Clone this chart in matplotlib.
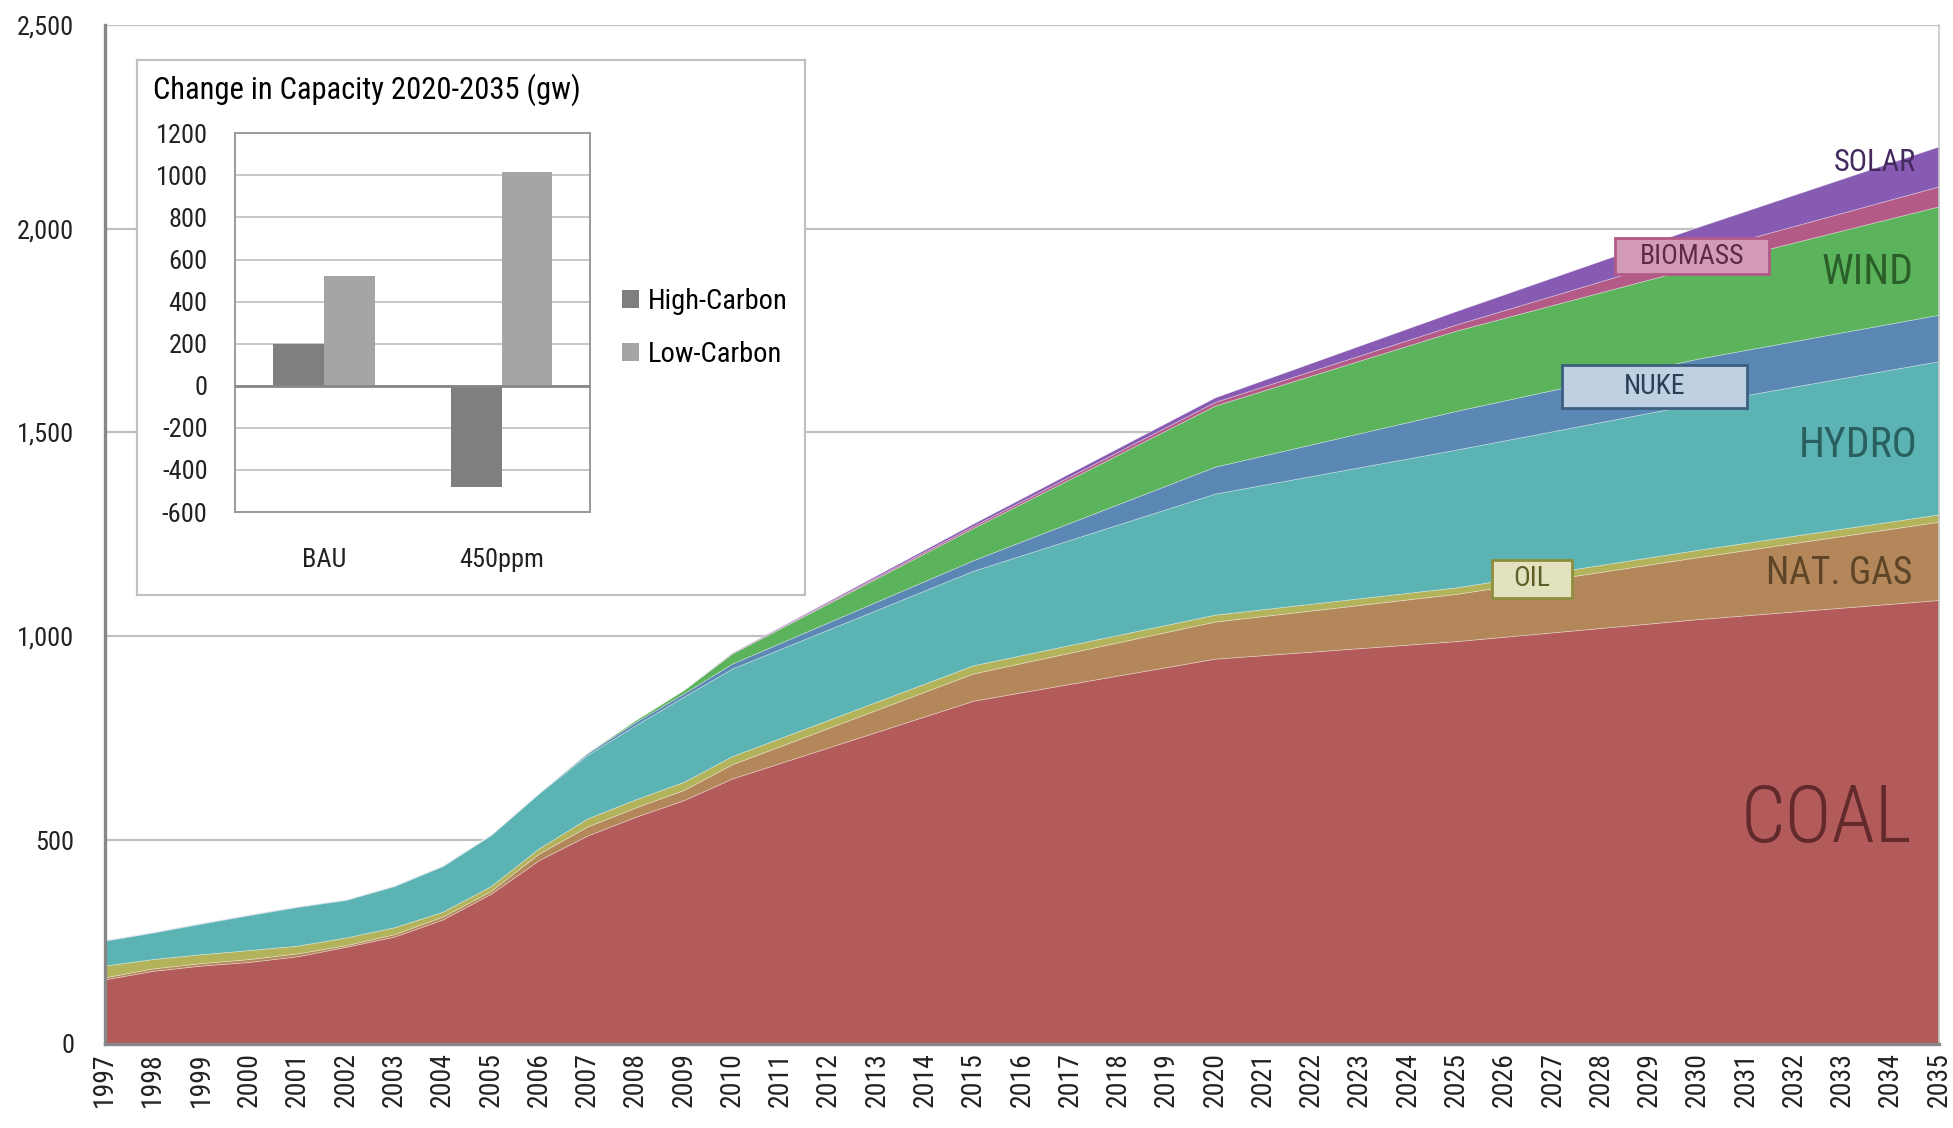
#!/usr/bin/env python3
"""Installed power capacity by source, 1997-2035 (GW), with inset of
change in capacity 2020-2035 under BAU and 450ppm scenarios."""

import matplotlib
matplotlib.use("Agg")
import matplotlib.pyplot as plt
import matplotlib.ticker as mticker
from matplotlib.patches import Rectangle, Patch

NARROW = ["Roboto Condensed", "Liberation Sans Narrow", "Roboto", "DejaVu Sans"]
plt.rcParams["font.family"] = NARROW
plt.rcParams["axes.unicode_minus"] = False

# ---- main stacked area data (GW) ----
YEARS = list(range(1997, 2011)) + [2015, 2020, 2025, 2030, 2035]
COAL = [158, 179, 192, 201, 215, 238, 263, 305, 368, 451, 511, 557, 598, 651,
        842, 945, 988, 1042, 1089]
GAS = [5, 6, 6, 7, 7, 4, 6, 7, 7, 16, 22, 23, 25, 35,
       67, 91, 116, 152, 192]
OIL = [29, 23, 22, 22, 19, 19, 17, 12, 12, 13, 20, 20, 20, 20,
       20, 17, 16, 18, 18]
HYDRO = [61, 65, 75, 86, 95, 92, 101, 112, 125, 135, 156, 182, 209, 215,
         232, 297, 338, 359, 376]
NUKE = [2, 2, 2, 2, 2, 2, 2, 2, 2, 2, 4, 8, 8, 12,
        26, 66, 95, 110, 114]
WIND = [0, 0, 0, 0, 0, 0, 0, 0, 0, 0, 2, 5, 9, 25,
        79, 150, 197, 226, 266]
BIOMASS = [0, 0, 0, 0, 0, 0, 0, 0, 0, 0, 0, 0, 0, 1,
           5, 9, 15, 35, 49]
SOLAR = [0, 0, 0, 0, 0, 0, 0, 0, 0, 0, 0, 0, 0, 1,
         6, 11, 33, 62, 98]

COLORS = ["#B35A5A", "#B38759", "#B3B35C", "#5BB3B3",
          "#5A87B3", "#5BB35B", "#B35A87", "#875AB3"]

# ---- inset data ----
SCENARIOS = ["BAU", "450ppm"]
HIGH_CARBON = [200, -480]
LOW_CARBON = [520, 1017]

W, H = 1953, 1128


def fx(px):
    return px / W


def fy(py):
    return 1 - py / H


def main():
    fig = plt.figure(figsize=(W / 100, H / 100), dpi=100)
    fig.patch.set_facecolor("white")

    ax = fig.add_axes([fx(104.6), fy(1043.8), fx(1939) - fx(104.6),
                       fy(24.9) - fy(1043.8)])
    ax.stackplot(YEARS, COAL, GAS, OIL, HYDRO, NUKE, WIND, BIOMASS, SOLAR,
                 colors=COLORS, edgecolor=(1, 1, 1, 0.35), linewidth=0.6)
    ax.set_xlim(1997, 2035)
    ax.set_ylim(0, 2500)
    ax.set_xticks(range(1997, 2036))
    ax.set_xticklabels([str(y) for y in range(1997, 2036)], rotation=90)
    ax.set_yticks(range(0, 2501, 500))
    ax.yaxis.set_major_formatter(mticker.StrMethodFormatter("{x:,.0f}"))
    ax.tick_params(axis="both", length=0, labelsize=19, colors="#222222")
    ax.tick_params(axis="x", labelsize=20, pad=6)
    ax.tick_params(axis="y", pad=22)
    ax.set_axisbelow(True)
    ax.grid(axis="y", color="#C0C0C0", linewidth=1.6)
    for s in ("left", "bottom"):
        ax.spines[s].set_color("#878787")
        ax.spines[s].set_linewidth(2.4)
    ax.spines["right"].set_color("#C8C8C8")
    ax.spines["right"].set_linewidth(1.2)
    ax.spines["top"].set_visible(False)

    # series labels
    big = dict(ha="right", va="center")
    fig.text(fx(1912), fy(820), "COAL", fontsize=57, fontweight="light",
             color="#622A2A", **big)
    fig.text(fx(1912), fy(573), "NAT. GAS", fontsize=27, color="#5E4527", **big)
    fig.text(fx(1918), fy(446), "HYDRO", fontsize=30, color="#2A5F5F", **big)
    fig.text(fx(1914), fy(272), "WIND", fontsize=30, color="#2A5F2A", **big)
    fig.text(fx(1916), fy(163), "SOLAR", fontsize=22, color="#452A5F", **big)

    boxes = [
        ("OIL", 1492, 560, 80, 38, "#E2E2BE", "#8E8E40", "#5E5E27"),
        ("NUKE", 1562, 365, 185, 43, "#BED0E1", "#3D5F80", "#283F55"),
        ("BIOMASS", 1615, 238, 154, 36, "#D39BB7", "#B35A87", "#5F2A45"),
    ]
    for label, x0, y0, bw, bh, face, edge, tc in boxes:
        fig.patches.append(Rectangle((fx(x0), fy(y0 + bh)), bw / W, bh / H,
                                     transform=fig.transFigure, facecolor=face,
                                     edgecolor=edge, linewidth=2, zorder=5))
        fig.text(fx(x0 + bw / 2), fy(y0 + bh / 2), label, ha="center",
                 va="center", fontsize=20, color=tc, zorder=6)

    # inset frame
    frame = fig.add_axes([fx(137), fy(595), fx(805) - fx(137), fy(60) - fy(595)])
    frame.set_xticks([])
    frame.set_yticks([])
    frame.set_facecolor("white")
    for s in frame.spines.values():
        s.set_color("#C0C0C0")
        s.set_linewidth(1.6)
    frame.text(fx(153), fy(90), "Change in Capacity 2020-2035 (gw)",
               transform=fig.transFigure, ha="left", va="center",
               fontsize=22, color="black")

    ax_in = fig.add_axes([fx(235.4), fy(512), fx(590.4) - fx(235.4),
                          fy(133.3) - fy(512)])
    xs = range(len(SCENARIOS))
    bw = 0.286
    ax_in.bar([x - bw / 2 for x in xs], HIGH_CARBON, width=bw,
              color="#7F7F7F", zorder=3)
    ax_in.bar([x + bw / 2 for x in xs], LOW_CARBON, width=bw,
              color="#A5A5A5", zorder=3)
    ax_in.axhline(0, color="#868686", linewidth=2, zorder=4)
    ax_in.set_xlim(-0.5, 1.5)
    ax_in.set_ylim(-600, 1200)
    ax_in.set_yticks(range(-600, 1201, 200))
    ax_in.set_xticks(list(xs))
    ax_in.set_xticklabels(SCENARIOS)
    ax_in.tick_params(axis="both", length=0, labelsize=19, colors="#222222")
    ax_in.tick_params(axis="y", pad=20)
    ax_in.tick_params(axis="x", pad=26)
    ax_in.grid(axis="y", color="#C8C8C8", linewidth=1.4, zorder=0)
    ax_in.set_axisbelow(True)
    for s in ax_in.spines.values():
        s.set_color("#9A9A9A")
        s.set_linewidth(1.4)

    handles = [Patch(facecolor="#7F7F7F", label="High-Carbon"),
               Patch(facecolor="#A5A5A5", label="Low-Carbon")]
    fig.legend(handles=handles, loc="center left",
               bbox_to_anchor=(fx(622), fy(328)), frameon=False, fontsize=20.5,
               handlelength=0.6, handleheight=0.6, handletextpad=0.3,
               labelspacing=0.9, borderpad=0, borderaxespad=0)

    fig.savefig("out.png", dpi=100, facecolor="white")


if __name__ == "__main__":
    main()
